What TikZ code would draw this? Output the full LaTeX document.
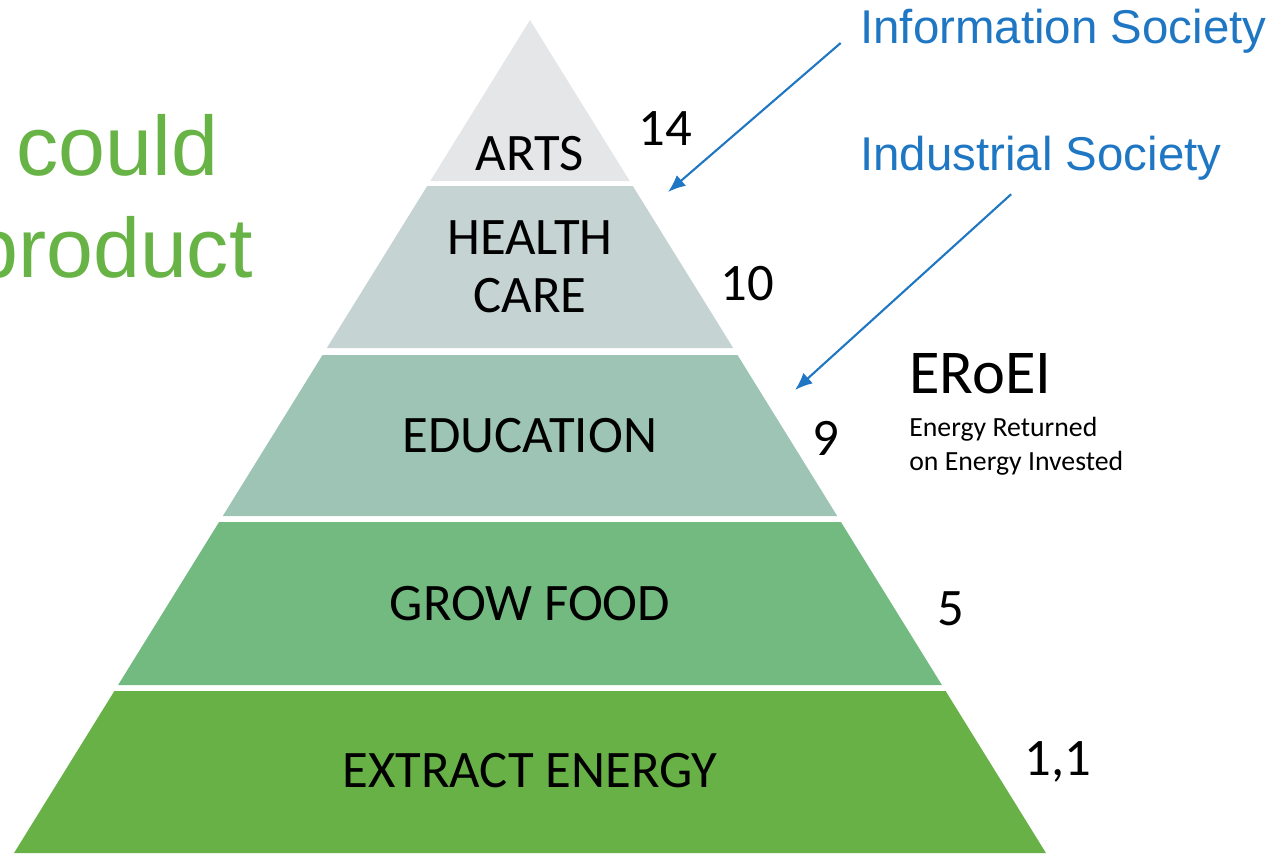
\documentclass[tikz,border=0pt]{standalone}
\usepackage{fontspec}
\setmainfont{Carlito}
\newfontfamily\arialfont{Liberation Sans}
\usetikzlibrary{arrows.meta}
\definecolor{artsgray}{HTML}{E5E6E8}
\definecolor{healthgray}{HTML}{C5D3D3}
\definecolor{edugreen}{HTML}{9DC4B5}
\definecolor{growgreen}{HTML}{73BA80}
\definecolor{energygreen}{HTML}{67B146}
\definecolor{socblue}{HTML}{1F77C4}
\definecolor{textgreen}{HTML}{67B346}
\def\layer[#1](#2:#3){\fill[#1] ({530-(#2-20)*0.6194},#2) -- ({530+(#2-20)*0.6194},#2) -- ({530+(#3-20)*0.6194},#3) -- ({530-(#3-20)*0.6194},#3) -- cycle;}

\begin{document}
\begin{tikzpicture}[x=0.02cm, y=-0.02cm,
    lbl/.style={font=\fontsize{30}{32.5}\selectfont, align=center, anchor=base, inner sep=0pt},
    num/.style={font=\fontsize{30}{32}\selectfont, anchor=base, inner sep=0pt},
    soc/.style={font=\arialfont\fontsize{27}{30}\selectfont, text=socblue, anchor=base west, inner sep=0pt},
    arr/.style={-{Latex[length=10pt,width=8pt]}, line width=1.2pt, draw=socblue}]
		%%%%% START %%%%%
		\useasboundingbox (0,0) rectangle (1285,853);
		\begin{scope}
		\clip (0,0) rectangle (1285,853);
		
		% pyramid
		\layer[artsgray](20:181)
		\layer[healthgray](186:348)
		\layer[edugreen](355:516)
		\layer[growgreen](522:685)
		\layer[energygreen](691:853)
		
		\node[lbl] (arts) at (530,170) {ARTS};
		\node[lbl] (health) at (530,312) {HEALTH\\CARE};
		\node[lbl] (edu) at (530,452) {EDUCATION};
		\node[lbl] (grow) at (530,620) {GROW FOOD};
		\node[lbl] (energy) at (530,787) {EXTRACT ENERGY};
		
		% eroei values
		\node[num] (v14) at (665,145) {14};
		\node[num] (v10) at (747,300) {10};
		\node[num] (v9) at (826,455) {9};
		\node[num] (v5) at (951,625) {5};
		\node[num] (v11) at (1058,775) {1,1};
		
		\node[font=\fontsize{35.5}{38}\selectfont, anchor=base west, inner sep=0pt] (eroei) at (909,393) {ERoEI};
		\node[font=\fontsize{15.8}{18.8}\selectfont, align=left, anchor=base west, inner sep=0pt] (eroeitxt) at (909,470) {Energy Returned\\on Energy Invested};
		
		% left text (cut off)
		\node[font=\arialfont\fontsize{48}{50}\selectfont, text=textgreen, anchor=base west, inner sep=0pt] (could) at (16,175) {could};
		\node[font=\arialfont\fontsize{48}{50}\selectfont, text=textgreen, anchor=base east, inner sep=0pt] (product) at (253,277) {product};
		
		% societies
		\node[soc] (info) at (860,43) {Information Society};
		\node[soc] (ind) at (860,170) {Industrial Society};
		\coordinate (infotip) at (668,192);
		\coordinate (indtip) at (795,390);
		\draw[arr] ([xshift=-11pt]info.base west) -- (infotip);
		\draw[arr] ([xshift=-17pt,yshift=-8pt]ind.south) -- (indtip);
		\end{scope}
		%%%%% END %%%%%
\end{tikzpicture}
\end{document}
